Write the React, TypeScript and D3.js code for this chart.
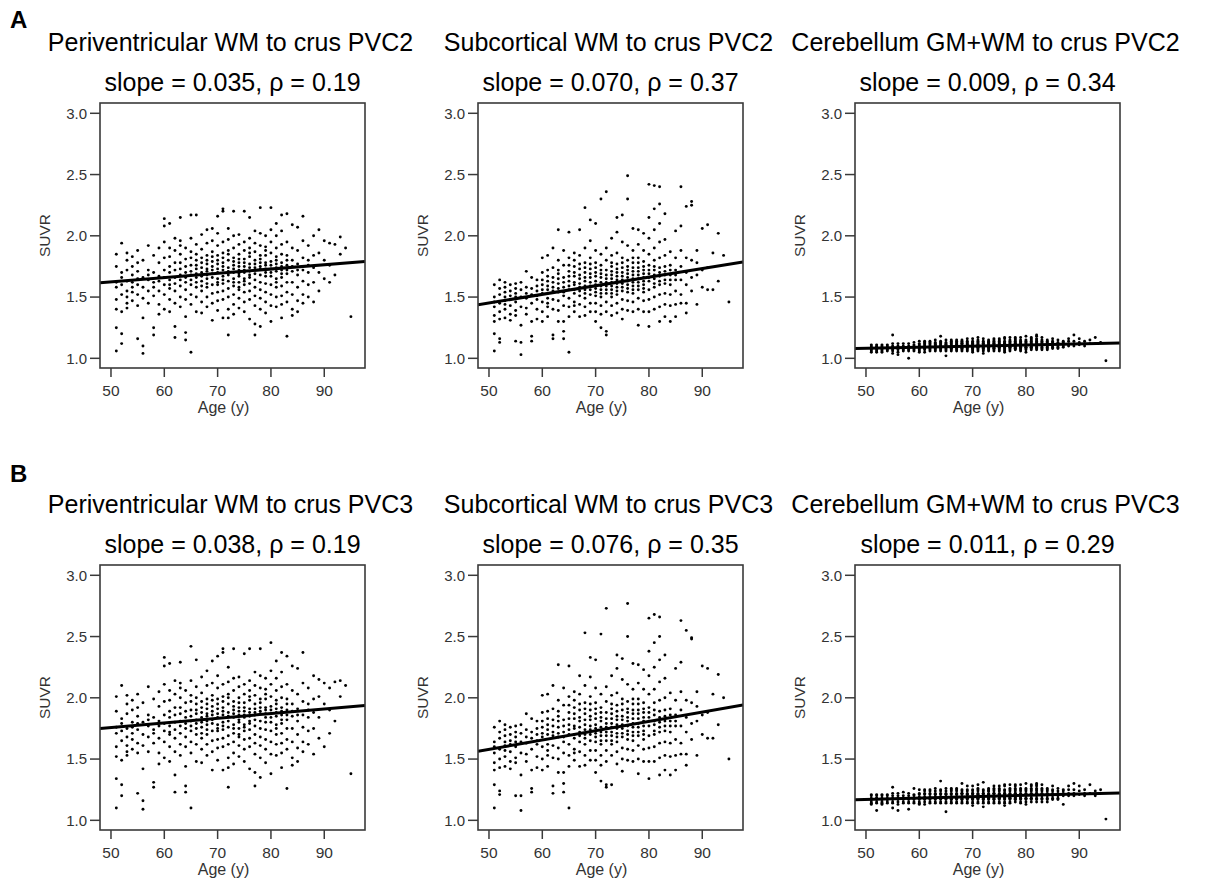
import React from "react";
import * as d3 from "d3";

// ---------------- DATA ----------------
// Age of each subject (same subjects in all six panels)
const ages = [
  51,51,51,51,51,51,51,51,
  52,52,52,52,52,52,52,52,
  53,53,53,53,53,53,53,53,
  54,54,54,54,54,54,54,
  55,55,55,55,55,55,55,55,
  56,56,56,56,56,56,56,
  57,57,57,57,57,57,
  58,58,58,58,58,58,58,
  59,59,59,59,59,59,59,
  60,60,60,60,60,60,60,60,60,
  61,61,61,61,61,61,61,61,61,61,
  62,62,62,62,62,62,62,62,62,62,
  63,63,63,63,63,63,63,63,63,63,63,
  64,64,64,64,64,64,64,64,64,64,64,
  65,65,65,65,65,65,65,65,65,65,65,65,
  66,66,66,66,66,66,66,66,66,66,66,66,
  67,67,67,67,67,67,67,67,67,67,67,67,
  68,68,68,68,68,68,68,68,68,68,68,68,68,
  69,69,69,69,69,69,69,69,69,69,69,69,69,
  70,70,70,70,70,70,70,70,70,70,70,70,70,70,
  71,71,71,71,71,71,71,71,71,71,71,71,71,71,
  72,72,72,72,72,72,72,72,72,72,72,72,72,72,
  73,73,73,73,73,73,73,73,73,73,73,73,73,73,
  74,74,74,74,74,74,74,74,74,74,74,74,74,74,
  75,75,75,75,75,75,75,75,75,75,75,75,75,75,
  76,76,76,76,76,76,76,76,76,76,76,76,76,76,
  77,77,77,77,77,77,77,77,77,77,77,77,77,77,
  78,78,78,78,78,78,78,78,78,78,78,78,78,78,
  79,79,79,79,79,79,79,79,79,79,79,79,79,
  80,80,80,80,80,80,80,80,80,80,80,80,80,
  81,81,81,81,81,81,81,81,81,81,81,81,81,
  82,82,82,82,82,82,82,82,82,82,82,82,82,
  83,83,83,83,83,83,83,83,83,83,83,
  84,84,84,84,84,84,84,84,84,
  85,85,85,85,85,85,85,85,
  86,86,86,86,86,86,86,
  87,87,87,87,87,87,
  88,88,88,88,88,
  89,89,89,89,
  90,90,90,
  91,91,91,
  92,92,
  93,93,
  94,
  95,
];

const periPVC2 = [
  1.75,1.62,1.48,1.25,1.06,1.58,1.85,1.40,
  1.94,1.60,1.12,1.20,1.52,1.70,1.38,1.66,
  1.80,1.55,1.45,1.63,1.72,1.50,1.86,1.41,
  1.58,1.68,1.75,1.47,1.62,1.54,1.83,
  1.16,1.88,1.65,1.52,1.71,1.43,1.60,1.78,
  1.04,1.10,1.58,1.66,1.49,1.80,1.33,
  1.92,1.64,1.55,1.72,1.45,1.68,
  1.19,1.25,1.62,1.70,1.51,1.84,1.58,
  1.67,1.55,1.78,1.44,1.63,1.90,1.36,
  2.14,2.08,1.95,1.72,1.60,1.52,1.66,1.82,1.40,
  2.10,1.90,1.75,1.64,1.57,1.48,1.70,1.83,1.60,1.38,
  1.17,1.26,1.98,1.78,1.66,1.55,1.61,1.72,1.88,1.45,
  2.15,1.96,1.85,1.73,1.68,1.59,1.50,1.64,1.78,1.42,1.92,
  1.15,1.21,1.34,1.62,1.70,1.81,1.56,1.90,1.66,1.48,1.75,
  1.05,2.17,1.98,1.87,1.76,1.68,1.60,1.52,1.44,1.71,1.82,1.64,
  2.17,1.93,1.80,1.73,1.66,1.58,1.50,1.38,1.69,1.85,1.62,1.76,
  2.01,1.89,1.78,1.70,1.63,1.55,1.46,1.37,1.74,1.67,1.82,1.59,
  2.05,1.94,1.84,1.77,1.71,1.65,1.58,1.50,1.42,1.68,1.80,1.61,1.73,
  2.06,1.96,1.87,1.79,1.72,1.66,1.60,1.53,1.31,1.45,1.75,1.69,1.83,
  2.16,2.02,1.92,1.84,1.77,1.70,1.65,1.60,1.54,1.47,1.39,1.73,1.80,1.62,
  2.20,2.22,1.95,1.86,1.78,1.72,1.67,1.61,1.55,1.48,1.33,1.75,1.82,1.64,
  2.06,1.97,1.88,1.80,1.74,1.68,1.63,1.57,1.50,1.40,1.19,1.33,1.71,1.85,
  2.20,2.00,1.90,1.82,1.76,1.70,1.65,1.59,1.52,1.44,1.36,1.73,1.79,1.62,
  2.01,1.93,1.85,1.78,1.72,1.67,1.62,1.56,1.49,1.41,1.75,1.69,1.81,1.58,
  2.20,1.95,1.88,1.81,1.75,1.70,1.65,1.60,1.54,1.46,1.38,1.72,1.78,1.63,
  2.15,1.98,1.90,1.83,1.77,1.71,1.66,1.61,1.55,1.48,1.32,1.74,1.68,1.86,
  2.04,1.94,1.87,1.80,1.74,1.69,1.64,1.58,1.51,1.43,1.19,1.28,1.72,1.77,
  2.23,2.02,1.92,1.84,1.78,1.73,1.68,1.62,1.56,1.49,1.40,1.26,1.75,1.81,
  2.00,1.91,1.84,1.78,1.73,1.67,1.61,1.54,1.46,1.37,1.70,1.76,1.88,
  2.23,2.05,1.95,1.86,1.79,1.73,1.67,1.60,1.52,1.43,1.30,1.76,1.70,
  2.10,2.00,1.90,1.83,1.77,1.71,1.65,1.58,1.50,1.42,1.74,1.80,1.62,
  2.17,2.04,1.93,1.85,1.78,1.72,1.66,1.59,1.51,1.44,1.33,1.75,1.69,
  2.18,1.95,1.84,1.76,1.69,1.62,1.54,1.46,1.18,1.72,1.80,
  2.09,1.90,1.80,1.71,1.62,1.52,1.40,1.35,1.75,
  2.07,1.88,1.77,1.68,1.58,1.47,1.38,1.72,
  2.16,1.96,1.82,1.72,1.63,1.52,1.45,
  1.92,1.80,1.70,1.60,1.50,1.76,
  2.00,1.84,1.74,1.62,1.46,
  2.05,1.86,1.70,1.55,
  1.96,1.80,1.65,
  1.94,1.76,1.62,
  1.93,1.68,
  1.99,1.85,
  1.90,
  1.34,
];

const subPVC2 = [
  1.60,1.50,1.42,1.35,1.20,1.06,1.46,1.30,
  1.64,1.52,1.45,1.38,1.13,1.16,1.57,1.32,
  1.62,1.54,1.47,1.40,1.33,1.58,1.44,1.50,
  1.60,1.51,1.43,1.36,1.48,1.55,1.31,
  1.14,1.61,1.53,1.46,1.39,1.50,1.57,1.35,
  1.03,1.13,1.62,1.50,1.42,1.27,1.56,
  1.71,1.58,1.49,1.41,1.53,1.36,
  1.14,1.18,1.66,1.52,1.45,1.30,1.57,
  1.64,1.55,1.48,1.40,1.32,1.59,1.51,
  1.82,1.70,1.60,1.53,1.46,1.38,1.30,1.64,1.56,
  1.84,1.72,1.63,1.56,1.49,1.42,1.34,1.67,1.59,1.45,
  1.90,1.16,1.19,1.74,1.62,1.55,1.48,1.40,1.66,1.58,
  2.05,1.80,1.69,1.61,1.54,1.47,1.39,1.30,1.65,1.57,1.72,
  1.88,1.76,1.66,1.58,1.51,1.43,1.16,1.22,1.30,1.62,1.54,
  2.03,1.05,1.82,1.71,1.63,1.56,1.49,1.42,1.34,1.67,1.59,1.76,
  1.86,1.75,1.67,1.60,1.53,1.46,1.38,1.70,1.62,1.56,1.80,1.43,
  2.05,1.84,1.73,1.65,1.58,1.51,1.44,1.34,1.68,1.61,1.77,1.55,
  2.23,1.90,1.78,1.70,1.63,1.56,1.49,1.42,1.35,1.66,1.59,1.74,1.53,
  2.13,1.96,1.82,1.73,1.66,1.59,1.52,1.45,1.38,1.69,1.62,1.77,1.56,
  2.10,1.88,1.78,1.70,1.63,1.57,1.51,1.45,1.38,1.30,1.67,1.60,1.74,1.54,
  2.30,1.85,1.76,1.69,1.62,1.56,1.50,1.43,1.36,1.25,1.66,1.59,1.72,1.53,
  2.36,1.90,1.80,1.72,1.65,1.59,1.53,1.46,1.38,1.19,1.22,1.68,1.62,1.56,
  1.98,1.84,1.75,1.68,1.62,1.56,1.50,1.43,1.35,1.71,1.65,1.59,1.78,1.53,
  2.15,2.03,1.86,1.77,1.70,1.64,1.58,1.52,1.45,1.37,1.73,1.67,1.61,1.55,
  2.17,1.95,1.82,1.74,1.67,1.61,1.55,1.48,1.40,1.32,1.70,1.64,1.58,1.78,
  2.49,2.30,1.92,1.80,1.72,1.66,1.60,1.54,1.47,1.39,1.69,1.63,1.57,1.75,
  2.06,1.88,1.78,1.71,1.65,1.59,1.53,1.46,1.38,1.74,1.68,1.62,1.56,1.82,
  2.05,1.93,1.82,1.74,1.68,1.62,1.56,1.49,1.40,1.27,1.71,1.65,1.59,1.78,
  2.02,1.88,1.79,1.72,1.66,1.60,1.54,1.47,1.38,1.75,1.69,1.63,1.57,
  2.42,2.15,1.98,1.85,1.76,1.69,1.63,1.56,1.48,1.38,1.26,1.72,1.66,
  2.41,2.22,2.05,1.90,1.80,1.72,1.65,1.58,1.50,1.40,1.75,1.68,1.61,
  2.40,2.26,2.10,1.95,1.82,1.74,1.67,1.60,1.52,1.42,1.30,1.70,1.63,
  2.18,1.97,1.84,1.75,1.68,1.61,1.53,1.44,1.34,1.71,1.64,
  1.87,1.76,1.68,1.60,1.52,1.43,1.30,1.72,1.64,
  2.04,1.82,1.72,1.64,1.55,1.44,1.34,1.68,
  2.40,2.08,1.88,1.75,1.64,1.52,1.45,
  2.24,1.82,1.70,1.60,1.45,1.37,
  2.28,2.25,1.80,1.66,1.55,
  1.88,1.78,1.68,1.44,
  2.06,1.72,1.58,
  2.09,1.74,1.56,
  1.86,1.56,
  2.02,1.63,
  1.84,
  1.46,
];

const cerePVC2 = [
  1.06,1.08,1.10,1.07,1.09,1.11,1.05,1.08,
  1.07,1.09,1.10,1.06,1.08,1.11,1.05,1.09,
  1.08,1.10,1.06,1.09,1.07,1.11,1.08,1.05,
  1.07,1.09,1.11,1.06,1.08,1.10,1.08,
  1.19,1.04,1.08,1.10,1.07,1.12,1.09,1.06,
  1.05,1.08,1.10,1.07,1.12,1.09,1.03,
  1.08,1.10,1.06,1.12,1.09,1.07,
  1.00,1.08,1.10,1.07,1.12,1.09,1.06,
  1.09,1.11,1.07,1.13,1.08,1.06,1.10,
  1.08,1.10,1.12,1.06,1.09,1.14,1.07,1.11,1.05,
  1.09,1.11,1.07,1.13,1.08,1.10,1.05,1.12,1.09,1.14,
  1.10,1.08,1.12,1.06,1.09,1.14,1.11,1.07,1.13,1.09,
  1.09,1.11,1.07,1.13,1.10,1.08,1.15,1.06,1.12,1.09,1.11,
  1.18,1.10,1.08,1.12,1.06,1.14,1.09,1.11,1.07,1.13,1.10,
  1.02,1.09,1.11,1.07,1.13,1.10,1.08,1.15,1.06,1.12,1.09,1.11,
  1.10,1.08,1.12,1.06,1.14,1.09,1.11,1.07,1.13,1.10,1.15,1.08,
  1.09,1.11,1.07,1.13,1.10,1.08,1.15,1.06,1.12,1.09,1.11,1.14,
  1.10,1.08,1.12,1.06,1.14,1.09,1.11,1.07,1.13,1.10,1.15,1.08,1.12,
  1.09,1.11,1.07,1.13,1.10,1.08,1.16,1.06,1.12,1.09,1.11,1.14,1.10,
  1.10,1.08,1.12,1.06,1.14,1.09,1.11,1.07,1.13,1.10,1.16,1.08,1.12,1.05,
  1.09,1.11,1.07,1.13,1.10,1.08,1.17,1.06,1.12,1.09,1.11,1.14,1.10,1.15,
  1.10,1.08,1.12,1.06,1.14,1.09,1.11,1.07,1.13,1.10,1.16,1.08,1.12,1.04,
  1.11,1.09,1.13,1.07,1.15,1.10,1.12,1.08,1.14,1.10,1.06,1.11,1.09,1.13,
  1.10,1.08,1.12,1.06,1.14,1.09,1.11,1.07,1.13,1.10,1.16,1.08,1.12,1.15,
  1.11,1.09,1.13,1.07,1.15,1.10,1.12,1.08,1.14,1.10,1.06,1.11,1.09,1.16,
  1.10,1.08,1.12,1.06,1.14,1.09,1.11,1.07,1.13,1.10,1.16,1.17,1.12,1.05,
  1.11,1.09,1.13,1.07,1.15,1.10,1.12,1.08,1.14,1.10,1.17,1.11,1.09,1.06,
  1.10,1.08,1.12,1.07,1.14,1.09,1.11,1.16,1.13,1.10,1.17,1.08,1.12,1.15,
  1.11,1.09,1.13,1.07,1.15,1.10,1.12,1.08,1.14,1.11,1.17,1.09,1.06,
  1.11,1.09,1.13,1.07,1.15,1.10,1.12,1.08,1.14,1.11,1.18,1.09,1.05,
  1.11,1.09,1.13,1.07,1.15,1.10,1.12,1.08,1.14,1.11,1.17,1.09,1.16,
  1.12,1.10,1.14,1.08,1.16,1.11,1.13,1.09,1.15,1.19,1.18,1.07,1.12,
  1.11,1.09,1.13,1.07,1.15,1.10,1.12,1.08,1.14,1.17,1.11,
  1.11,1.09,1.13,1.08,1.15,1.10,1.12,1.07,1.14,
  1.12,1.10,1.14,1.08,1.11,1.13,1.09,1.16,
  1.11,1.09,1.13,1.10,1.12,1.08,1.15,
  1.12,1.10,1.14,1.09,1.11,1.13,
  1.12,1.10,1.14,1.11,1.16,
  1.12,1.19,1.10,1.14,
  1.13,1.11,1.16,
  1.12,1.10,1.14,
  1.15,1.12,
  1.17,1.12,
  1.13,
  0.98,
];

const periPVC3 = [
  1.89,1.76,1.60,1.34,1.10,1.71,2.01,1.52,
  2.10,1.73,1.20,1.29,1.65,1.83,1.49,1.79,
  1.95,1.68,1.56,1.75,1.87,1.61,2.02,1.53,
  1.71,1.80,1.90,1.58,1.76,1.66,1.98,
  1.22,2.03,1.79,1.63,1.85,1.55,1.74,1.92,
  1.09,1.16,1.70,1.80,1.61,1.96,1.42,
  2.09,1.77,1.68,1.86,1.56,1.82,
  1.27,1.31,1.74,1.84,1.63,1.99,1.71,
  1.81,1.67,1.93,1.55,1.77,2.05,1.46,
  2.33,2.26,2.11,1.86,1.73,1.64,1.79,1.97,1.51,
  2.28,2.06,1.89,1.77,1.70,1.60,1.84,1.98,1.72,1.48,
  1.23,1.37,2.14,1.92,1.80,1.67,1.74,1.86,2.03,1.56,
  2.29,2.12,2.00,1.87,1.81,1.71,1.62,1.77,1.92,1.53,2.08,
  1.23,1.28,1.44,1.75,1.84,1.96,1.68,2.06,1.79,1.60,1.89,
  1.10,2.42,2.14,2.02,1.90,1.81,1.73,1.64,1.55,1.85,1.97,1.77,
  2.31,2.09,1.95,1.87,1.79,1.70,1.62,1.48,1.82,2.00,1.75,1.90,
  2.17,2.04,1.92,1.84,1.76,1.67,1.58,1.47,1.88,1.80,1.97,1.71,
  2.22,2.10,1.99,1.91,1.85,1.78,1.70,1.62,1.53,1.81,1.95,1.74,1.87,
  2.30,2.12,2.02,1.93,1.86,1.79,1.73,1.65,1.41,1.56,1.89,1.82,1.98,
  2.34,2.18,2.08,1.99,1.91,1.84,1.78,1.73,1.66,1.59,1.49,1.87,1.95,1.75,
  2.37,2.40,2.11,2.01,1.92,1.86,1.80,1.74,1.67,1.60,1.41,1.89,1.97,1.77,
  2.25,2.13,2.03,1.95,1.88,1.81,1.76,1.69,1.62,1.51,1.27,1.43,1.85,2.00,
  2.40,2.16,2.06,1.97,1.90,1.84,1.78,1.71,1.64,1.55,1.46,1.87,1.93,1.75,
  2.17,2.09,2.00,1.92,1.86,1.80,1.75,1.68,1.61,1.52,1.89,1.82,1.96,1.70,
  2.36,2.11,2.03,1.96,1.89,1.84,1.78,1.73,1.66,1.58,1.48,1.86,1.92,1.76,
  2.40,2.14,2.06,1.98,1.91,1.85,1.79,1.74,1.67,1.60,1.42,1.88,1.81,2.01,
  2.21,2.10,2.02,1.95,1.88,1.82,1.77,1.70,1.63,1.54,1.28,1.39,1.86,1.91,
  2.40,2.18,2.08,1.99,1.92,1.87,1.81,1.75,1.68,1.61,1.51,1.35,1.89,1.96,
  2.16,2.07,1.99,1.92,1.87,1.80,1.74,1.66,1.58,1.47,1.84,1.90,2.03,
  2.45,2.22,2.11,2.01,1.93,1.87,1.80,1.73,1.64,1.54,1.38,1.90,1.84,
  2.30,2.16,2.06,1.98,1.91,1.85,1.78,1.70,1.62,1.53,1.88,1.95,1.75,
  2.37,2.21,2.09,2.00,1.92,1.86,1.79,1.71,1.63,1.55,1.43,1.89,1.82,
  2.34,2.11,1.99,1.90,1.82,1.75,1.66,1.58,1.26,1.86,1.95,
  2.26,2.06,1.95,1.85,1.75,1.64,1.51,1.45,1.89,
  2.24,2.03,1.91,1.81,1.70,1.59,1.48,1.86,
  2.37,2.12,1.97,1.86,1.76,1.64,1.56,
  2.08,1.95,1.84,1.73,1.62,1.90,
  2.18,1.99,1.88,1.75,1.54,
  2.15,2.01,1.84,1.67,
  2.12,1.95,1.60,
  2.08,1.90,1.71,
  2.13,1.81,
  2.14,2.01,
  2.10,
  1.38,
];

const subPVC3 = [
  1.76,1.64,1.55,1.47,1.29,1.10,1.60,1.41,
  1.81,1.67,1.58,1.50,1.21,1.24,1.72,1.43,
  1.78,1.69,1.61,1.52,1.44,1.74,1.57,1.64,
  1.76,1.65,1.56,1.48,1.62,1.70,1.42,
  1.20,1.77,1.68,1.60,1.51,1.64,1.72,1.47,
  1.08,1.20,1.78,1.64,1.55,1.37,1.71,
  1.87,1.74,1.63,1.54,1.68,1.48,
  1.23,1.26,1.83,1.67,1.58,1.41,1.72,
  1.81,1.70,1.62,1.52,1.43,1.75,1.65,
  2.02,1.88,1.76,1.68,1.60,1.50,1.41,1.81,1.71,
  2.03,1.89,1.78,1.70,1.62,1.53,1.44,1.83,1.74,1.57,
  2.10,1.22,1.28,1.91,1.77,1.69,1.61,1.51,1.82,1.72,
  2.27,1.98,1.85,1.76,1.68,1.59,1.50,1.39,1.81,1.71,1.89,
  2.08,1.94,1.82,1.72,1.64,1.55,1.23,1.30,1.39,1.77,1.68,
  2.26,1.10,2.01,1.88,1.78,1.70,1.62,1.53,1.44,1.83,1.74,1.94,
  2.05,1.92,1.83,1.75,1.67,1.58,1.49,1.87,1.77,1.70,1.98,1.55,
  2.18,2.03,1.90,1.81,1.72,1.64,1.56,1.44,1.84,1.76,1.95,1.69,
  2.53,2.10,1.96,1.87,1.78,1.70,1.62,1.53,1.45,1.82,1.74,1.91,1.67,
  2.33,2.17,2.01,1.90,1.82,1.74,1.65,1.57,1.49,1.85,1.77,1.95,1.70,
  2.31,2.08,1.96,1.87,1.78,1.71,1.64,1.57,1.49,1.39,1.83,1.75,1.91,1.68,
  2.52,2.03,1.92,1.84,1.76,1.69,1.62,1.53,1.45,1.32,1.81,1.72,1.88,1.65,
  2.73,2.09,1.97,1.88,1.79,1.72,1.65,1.57,1.48,1.27,1.29,1.83,1.76,1.69,
  2.18,2.02,1.91,1.83,1.76,1.69,1.62,1.53,1.29,1.87,1.79,1.72,1.95,1.65,
  2.35,2.24,2.04,1.94,1.85,1.78,1.71,1.64,1.56,1.46,1.89,1.82,1.75,1.68,
  2.32,2.15,1.99,1.90,1.82,1.75,1.68,1.59,1.50,1.40,1.85,1.78,1.71,1.95,
  2.77,2.50,2.11,1.97,1.88,1.81,1.73,1.66,1.58,1.49,1.84,1.77,1.70,1.91,
  2.28,2.07,1.95,1.87,1.79,1.72,1.65,1.57,1.48,1.90,1.83,1.76,1.69,1.99,
  2.27,2.12,1.99,1.90,1.83,1.76,1.69,1.61,1.50,1.38,1.87,1.79,1.72,1.95,
  2.23,2.07,1.96,1.88,1.81,1.73,1.66,1.58,1.48,1.91,1.84,1.77,1.70,
  2.65,2.38,2.18,2.03,1.92,1.84,1.77,1.69,1.59,1.48,1.34,1.88,1.81,
  2.68,2.45,2.25,2.07,1.96,1.86,1.78,1.70,1.60,1.48,1.90,1.81,1.73,
  2.66,2.50,2.31,2.13,1.98,1.89,1.80,1.72,1.63,1.51,1.37,1.84,1.76,
  2.35,2.16,2.00,1.90,1.81,1.73,1.64,1.53,1.41,1.85,1.77,
  2.04,1.91,1.81,1.72,1.63,1.52,1.37,1.86,1.77,
  2.24,1.98,1.86,1.77,1.66,1.53,1.41,1.81,
  2.63,2.29,2.05,1.90,1.77,1.63,1.54,
  2.55,1.98,1.84,1.72,1.54,1.45,
  2.49,2.48,1.96,1.79,1.66,
  2.05,1.93,1.81,1.53,
  2.26,1.86,1.70,
  2.24,1.88,1.67,
  2.03,1.67,
  2.19,1.78,
  2.00,
  1.50,
];

const cerePVC3 = [
  1.14,1.17,1.20,1.15,1.18,1.21,1.13,1.17,
  1.15,1.18,1.20,1.14,1.17,1.21,1.08,1.18,
  1.17,1.20,1.14,1.18,1.15,1.21,1.17,1.13,
  1.15,1.18,1.21,1.14,1.17,1.20,1.17,
  1.27,1.10,1.17,1.20,1.15,1.22,1.18,1.14,
  1.13,1.17,1.20,1.15,1.22,1.18,1.08,
  1.17,1.20,1.14,1.23,1.18,1.15,
  1.09,1.17,1.20,1.15,1.22,1.18,1.14,
  1.18,1.21,1.15,1.26,1.17,1.14,1.20,
  1.17,1.19,1.22,1.14,1.18,1.25,1.15,1.21,1.13,
  1.18,1.21,1.15,1.24,1.17,1.19,1.13,1.22,1.18,1.25,
  1.19,1.17,1.22,1.14,1.18,1.25,1.21,1.15,1.24,1.18,
  1.18,1.21,1.15,1.24,1.19,1.17,1.26,1.14,1.22,1.18,1.21,
  1.32,1.19,1.17,1.22,1.14,1.25,1.18,1.21,1.15,1.24,1.19,
  1.07,1.18,1.21,1.15,1.24,1.19,1.17,1.26,1.14,1.22,1.18,1.21,
  1.19,1.17,1.22,1.14,1.25,1.18,1.21,1.15,1.24,1.19,1.26,1.17,
  1.18,1.21,1.15,1.24,1.19,1.17,1.26,1.14,1.22,1.18,1.21,1.25,
  1.19,1.17,1.22,1.14,1.25,1.18,1.21,1.15,1.24,1.19,1.30,1.17,1.22,
  1.18,1.21,1.15,1.24,1.19,1.17,1.28,1.14,1.22,1.18,1.21,1.25,1.19,
  1.19,1.17,1.22,1.14,1.25,1.18,1.21,1.15,1.24,1.19,1.28,1.17,1.22,1.12,
  1.18,1.21,1.15,1.24,1.19,1.17,1.29,1.14,1.22,1.18,1.21,1.25,1.19,1.26,
  1.19,1.17,1.22,1.14,1.25,1.18,1.21,1.15,1.24,1.19,1.31,1.17,1.22,1.11,
  1.21,1.18,1.24,1.15,1.26,1.19,1.22,1.17,1.25,1.19,1.14,1.21,1.18,1.24,
  1.19,1.17,1.22,1.14,1.25,1.18,1.21,1.15,1.24,1.19,1.28,1.17,1.22,1.26,
  1.21,1.18,1.24,1.15,1.26,1.19,1.22,1.17,1.25,1.19,1.14,1.21,1.18,1.28,
  1.19,1.17,1.22,1.14,1.25,1.18,1.21,1.15,1.24,1.19,1.28,1.29,1.22,1.12,
  1.21,1.18,1.24,1.15,1.26,1.19,1.22,1.17,1.25,1.19,1.29,1.21,1.18,1.14,
  1.19,1.17,1.22,1.15,1.25,1.18,1.21,1.28,1.24,1.19,1.29,1.17,1.22,1.26,
  1.21,1.18,1.24,1.15,1.26,1.19,1.22,1.17,1.25,1.21,1.29,1.18,1.14,
  1.21,1.18,1.24,1.15,1.26,1.20,1.22,1.17,1.25,1.21,1.30,1.18,1.13,
  1.21,1.18,1.24,1.15,1.26,1.20,1.22,1.17,1.25,1.21,1.29,1.18,1.28,
  1.22,1.20,1.25,1.17,1.28,1.21,1.24,1.18,1.26,1.30,1.29,1.15,1.22,
  1.21,1.18,1.24,1.15,1.26,1.20,1.22,1.17,1.25,1.29,1.21,
  1.21,1.18,1.24,1.17,1.26,1.20,1.22,1.15,1.25,
  1.22,1.20,1.25,1.17,1.21,1.24,1.18,1.28,
  1.21,1.18,1.24,1.20,1.22,1.17,1.26,
  1.22,1.20,1.25,1.13,1.21,1.24,
  1.22,1.20,1.25,1.21,1.28,
  1.22,1.30,1.20,1.25,
  1.24,1.21,1.28,
  1.22,1.20,1.25,
  1.29,1.22,
  1.24,1.20,
  1.25,
  1.01,
];

const panelTitles = [
  "Periventricular WM to crus PVC2",
  "Subcortical WM to crus PVC2",
  "Cerebellum GM+WM to crus PVC2",
  "Periventricular WM to crus PVC3",
  "Subcortical WM to crus PVC3",
  "Cerebellum GM+WM to crus PVC3",
];
const panelStats = [
  "slope = 0.035, \u03c1 = 0.19",
  "slope = 0.070, \u03c1 = 0.37",
  "slope = 0.009, \u03c1 = 0.34",
  "slope = 0.038, \u03c1 = 0.19",
  "slope = 0.076, \u03c1 = 0.35",
  "slope = 0.011, \u03c1 = 0.29",
];
// fitted line: slope per decade, value of fit at age 70
const slopesPerDecade = [0.035, 0.070, 0.009, 0.038, 0.076, 0.011];
const fitAt70 = [1.694, 1.592, 1.100, 1.833, 1.731, 1.193];
const rowLetters = ["A", "B"];
const xTicks = [50, 60, 70, 80, 90];
const yTicks = [1.0, 1.5, 2.0, 2.5, 3.0];
const xLabel = "Age (y)";
const yLabel = "SUVR";

const seriesList = [periPVC2, subPVC2, cerePVC2, periPVC3, subPVC3, cerePVC3];

// ---------------- LAYOUT ----------------
const W = 1225;
const H = 883;
const colLefts = [100, 478, 855];
const rowTops = [103, 565];
const boxW = 265;
const boxH = 265;
const xDomain = [47.94, 97.64];
const yDomain = [0.921, 3.084];
const FONT = "'Liberation Sans', Arial, Helvetica, sans-serif";

function Panel({ idx }: { idx: number }) {
  const col = idx % 3;
  const row = Math.floor(idx / 3);
  const left = colLefts[col];
  const top = rowTops[row];
  const x = d3.scaleLinear().domain(xDomain).range([left, left + boxW]);
  const y = d3.scaleLinear().domain(yDomain).range([top + boxH, top]);
  const vals = seriesList[idx];
  const n = Math.min(ages.length, vals.length);
  const b = slopesPerDecade[idx] / 10;
  const fit = (a: number) => fitAt70[idx] + b * (a - 70);
  const clipId = `clip-${idx}`;
  const cx = left + boxW / 2;
  const fmt = d3.format(".1f");
  const axisColor = "#3a3a3a";
  return (
    <g>
      <defs>
        <clipPath id={clipId}>
          <rect x={left} y={top} width={boxW} height={boxH} />
        </clipPath>
      </defs>
      <text x={cx - 2} y={top - 52} textAnchor="middle" fontSize={25} fontFamily={FONT} fill="#000">
        {panelTitles[idx]}
      </text>
      <text x={cx} y={top - 12} textAnchor="middle" fontSize={25} fontFamily={FONT} fill="#000">
        {panelStats[idx]}
      </text>
      <g clipPath={`url(#${clipId})`}>
        {d3.range(n).map((i) => (
          <circle key={i} cx={x(ages[i])} cy={y(vals[i])} r={1.45} fill="#000" />
        ))}
        <line
          x1={x(xDomain[0])}
          y1={y(fit(xDomain[0]))}
          x2={x(xDomain[1])}
          y2={y(fit(xDomain[1]))}
          stroke="#000"
          strokeWidth={3}
        />
      </g>
      <rect x={left} y={top} width={boxW} height={boxH} fill="none" stroke={axisColor} strokeWidth={1.6} />
      {yTicks.map((t) => (
        <g key={`y${t}`}>
          <line x1={left - 10} x2={left} y1={y(t)} y2={y(t)} stroke={axisColor} strokeWidth={1.5} />
          <text x={left - 13} y={y(t)} dy="0.35em" textAnchor="end" fontSize={15} fontFamily={FONT} fill="#333">
            {fmt(t)}
          </text>
        </g>
      ))}
      {xTicks.map((t) => (
        <g key={`x${t}`}>
          <line x1={x(t)} x2={x(t)} y1={top + boxH} y2={top + boxH + 9} stroke={axisColor} strokeWidth={1.5} />
          <text x={x(t)} y={top + boxH + 28} textAnchor="middle" fontSize={15.5} fontFamily={FONT} fill="#333">
            {t}
          </text>
        </g>
      ))}
      <text x={cx - 9} y={top + boxH + 45} textAnchor="middle" fontSize={16} fontFamily={FONT} fill="#333">
        {xLabel}
      </text>
      <text
        transform={`translate(${left - 55},${top + boxH / 2}) rotate(-90)`}
        textAnchor="middle"
        dy="0.35em"
        fontSize={15.5}
        fontFamily={FONT}
        fill="#333"
      >
        {yLabel}
      </text>
    </g>
  );
}

export default function App() {
  return (
    <svg
      width={W}
      height={H}
      viewBox={`0 0 ${W} ${H}`}
      style={{ position: "absolute", left: 0, top: 0, background: "#fff" }}
    >
      <rect x={0} y={0} width={W} height={H} fill="#fff" />
      <text x={10} y={28} fontSize={24} fontWeight="bold" fontFamily={FONT} fill="#000">
        {rowLetters[0]}
      </text>
      <text x={10} y={482} fontSize={24} fontWeight="bold" fontFamily={FONT} fill="#000">
        {rowLetters[1]}
      </text>
      {d3.range(6).map((i) => (
        <Panel key={i} idx={i} />
      ))}
    </svg>
  );
}
